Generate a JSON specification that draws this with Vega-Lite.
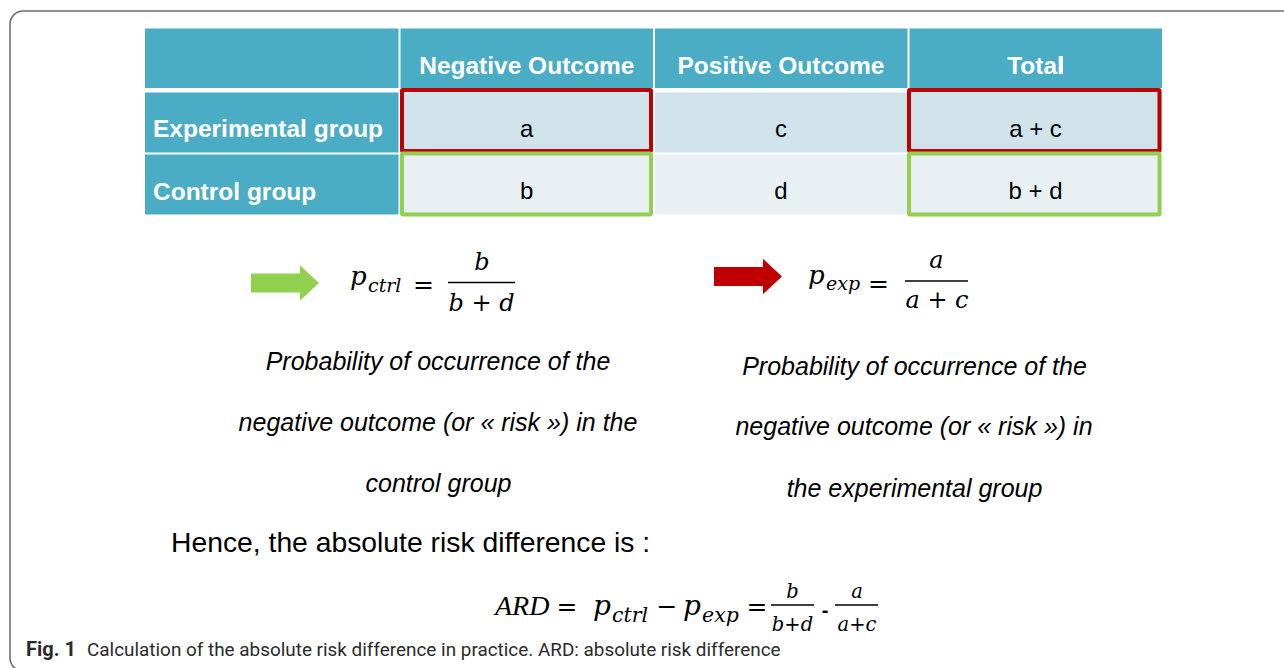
{
  "$schema": "https://vega.github.io/schema/vega-lite/v6.json",
  "width": 1284,
  "height": 668,
  "padding": 0,
  "autosize": {"type": "none"},
  "background": "white",
  "config": {"view": {"stroke": null}},
  "datasets": {
    "frame": [{"x": 10, "x2": 1330, "y": 11, "y2": 671}],
    "cells": [
      {"x": 145, "x2": 398.5, "y": 28.5, "y2": 88, "role": "header"},
      {"x": 400.5, "x2": 653, "y": 28.5, "y2": 88, "role": "header"},
      {"x": 655, "x2": 907.5, "y": 28.5, "y2": 88, "role": "header"},
      {"x": 909.5, "x2": 1162, "y": 28.5, "y2": 88, "role": "header"},
      {"x": 145, "x2": 398.5, "y": 92.5, "y2": 152.5, "role": "header"},
      {"x": 145, "x2": 398.5, "y": 154.5, "y2": 214.5, "role": "header"},
      {"x": 400.5, "x2": 653, "y": 92.5, "y2": 152.5, "role": "row1"},
      {"x": 655, "x2": 907.5, "y": 92.5, "y2": 152.5, "role": "row1"},
      {"x": 909.5, "x2": 1162, "y": 92.5, "y2": 152.5, "role": "row1"},
      {"x": 400.5, "x2": 653, "y": 154.5, "y2": 214.5, "role": "row2"},
      {"x": 655, "x2": 907.5, "y": 154.5, "y2": 214.5, "role": "row2"},
      {"x": 909.5, "x2": 1162, "y": 154.5, "y2": 214.5, "role": "row2"}
    ],
    "outlines": [
      {"x": 402, "x2": 651, "y": 90, "y2": 151, "group": "exp"},
      {"x": 909, "x2": 1159.5, "y": 90, "y2": 151, "group": "exp"},
      {"x": 402, "x2": 651, "y": 153.5, "y2": 214.5, "group": "ctrl"},
      {"x": 909, "x2": 1159.5, "y": 153.5, "y2": 214.5, "group": "ctrl"}
    ],
    "cursor": [{"x": 1061.5, "y": 56, "y2": 74}],
    "arrows": [
      {"x": 285, "y": 283, "group": "ctrl"},
      {"x": 748, "y": 276.5, "group": "exp"}
    ],
    "fracLines": [
      {"x": 448, "x2": 515, "y": 282.5},
      {"x": 905, "x2": 968, "y": 281},
      {"x": 771, "x2": 814, "y": 605},
      {"x": 835, "x2": 878, "y": 605}
    ],
    "headerText": [
      {"x": 526.75, "y": 74, "label": "Negative Outcome"},
      {"x": 781, "y": 74, "label": "Positive Outcome"},
      {"x": 1035.5, "y": 74, "label": "Total"}
    ],
    "labelText": [
      {"x": 153, "y": 137, "label": "Experimental group"},
      {"x": 153, "y": 199.5, "label": "Control group"}
    ],
    "cellText": [
      {"x": 526.75, "y": 137, "label": "a"},
      {"x": 781, "y": 137, "label": "c"},
      {"x": 1035.5, "y": 137, "label": "a + c"},
      {"x": 526.75, "y": 198.5, "label": "b"},
      {"x": 781, "y": 198.5, "label": "d"},
      {"x": 1035.5, "y": 198.5, "label": "b + d"}
    ],
    "mathP": [
      {"x": 350, "y": 285, "label": "p"},
      {"x": 808, "y": 284, "label": "p"}
    ],
    "mathSub": [
      {"x": 368, "y": 292, "label": "ctrl"},
      {"x": 826, "y": 290, "label": "exp"}
    ],
    "ardP": [
      {"x": 593, "y": 615, "label": "p"},
      {"x": 683, "y": 615, "label": "p"}
    ],
    "ardSub": [
      {"x": 612, "y": 622, "label": "ctrl"},
      {"x": 702, "y": 622, "label": "exp"}
    ],
    "mathFrac": [
      {"x": 482, "y": 270, "label": "b"},
      {"x": 481.5, "y": 311, "label": "b + d"},
      {"x": 936.5, "y": 268, "label": "a"},
      {"x": 937, "y": 308, "label": "a + c"}
    ],
    "mathFracSmall": [
      {"x": 792.5, "y": 598, "label": "b"},
      {"x": 792.5, "y": 631, "label": "b+d"},
      {"x": 857, "y": 598, "label": "a"},
      {"x": 857, "y": 631, "label": "a+c"}
    ],
    "mathOps": [
      {"x": 423.5, "y": 284.5, "label": "="},
      {"x": 878.5, "y": 284, "label": "="},
      {"x": 567, "y": 607, "label": "="},
      {"x": 667, "y": 607, "label": "−"},
      {"x": 757, "y": 607, "label": "="}
    ],
    "mathArd": [{"x": 495, "y": 615, "label": "ARD"}],
    "hyphen": [{"x": 825, "y": 611, "label": "-"}],
    "bodyText": [
      {"x": 438, "y": 370, "label": "Probability of occurrence of the"},
      {"x": 438, "y": 431, "label": "negative outcome (or « risk ») in the"},
      {"x": 438.5, "y": 492, "label": "control group"},
      {"x": 914.5, "y": 375, "label": "Probability of occurrence of the"},
      {"x": 914, "y": 435, "label": "negative outcome (or « risk ») in"},
      {"x": 914.5, "y": 497, "label": "the experimental group"}
    ],
    "hence": [{"x": 171, "y": 551.5, "label": "Hence, the absolute risk difference is :"}],
    "figLabel": [{"x": 26, "y": 656, "label": "Fig. 1"}],
    "caption": [{"x": 87, "y": 656, "label": "Calculation of the absolute risk difference in practice. ARD: absolute risk difference"}]
  },
  "encoding": {
    "x": {"field": "x", "type": "quantitative", "scale": {"domain": [0, 1284], "nice": false, "zero": false}, "axis": null},
    "y": {"field": "y", "type": "quantitative", "scale": {"domain": [0, 668], "nice": false, "zero": false, "reverse": true}, "axis": null}
  },
  "layer": [
    {
      "data": {"name": "frame"},
      "mark": {"type": "rect", "filled": false, "stroke": "#6e6e6e", "strokeWidth": 1.6, "cornerRadius": 13},
      "encoding": {"x2": {"field": "x2"}, "y2": {"field": "y2"}}
    },
    {
      "data": {"name": "cells"},
      "mark": {"type": "rect"},
      "encoding": {
        "x2": {"field": "x2"}, "y2": {"field": "y2"},
        "color": {"field": "role", "type": "nominal", "scale": {"domain": ["header", "row1", "row2"], "range": ["#4BACC6", "#D0E3EA", "#E9F0F4"]}, "legend": null}
      }
    },
    {
      "data": {"name": "outlines"},
      "mark": {"type": "rect", "filled": false, "strokeWidth": 4, "cornerRadius": 1},
      "encoding": {
        "x2": {"field": "x2"}, "y2": {"field": "y2"},
        "stroke": {"field": "group", "type": "nominal", "scale": {"domain": ["exp", "ctrl"], "range": ["#C00000", "#92D050"]}, "legend": null}
      }
    },
    {
      "data": {"name": "cursor"},
      "mark": {"type": "rule", "color": "white", "strokeWidth": 3},
      "encoding": {"y2": {"field": "y2"}}
    },
    {
      "data": {"name": "arrows"},
      "mark": {"type": "point", "shape": "M-1,-0.28L0.44,-0.28L0.44,-0.52L1,0L0.44,0.52L0.44,0.28L-1,0.28Z", "size": 4624, "filled": true, "opacity": 1, "strokeWidth": 0},
      "encoding": {
        "fill": {"field": "group", "type": "nominal", "scale": {"domain": ["exp", "ctrl"], "range": ["#C00000", "#92D050"]}, "legend": null}
      }
    },
    {
      "data": {"name": "fracLines"},
      "mark": {"type": "rule", "color": "black", "strokeWidth": 1.4},
      "encoding": {"x2": {"field": "x2"}}
    },
    {
      "data": {"name": "headerText"},
      "mark": {"type": "text", "font": "Liberation Sans", "fontWeight": "bold", "fontSize": 24.5, "color": "white", "align": "center", "baseline": "alphabetic"},
      "encoding": {"text": {"field": "label"}}
    },
    {
      "data": {"name": "labelText"},
      "mark": {"type": "text", "font": "Liberation Sans", "fontWeight": "bold", "fontSize": 24.5, "color": "white", "align": "left", "baseline": "alphabetic"},
      "encoding": {"text": {"field": "label"}}
    },
    {
      "data": {"name": "cellText"},
      "mark": {"type": "text", "font": "Liberation Sans", "fontSize": 24, "color": "black", "align": "center", "baseline": "alphabetic"},
      "encoding": {"text": {"field": "label"}}
    },
    {
      "data": {"name": "mathP"},
      "mark": {"type": "text", "font": "DejaVu Serif", "fontStyle": "italic", "fontSize": 26, "color": "black", "align": "left", "baseline": "alphabetic"},
      "encoding": {"text": {"field": "label"}}
    },
    {
      "data": {"name": "mathSub"},
      "mark": {"type": "text", "font": "DejaVu Serif", "fontStyle": "italic", "fontSize": 19, "color": "black", "align": "left", "baseline": "alphabetic"},
      "encoding": {"text": {"field": "label"}}
    },
    {
      "data": {"name": "ardP"},
      "mark": {"type": "text", "font": "DejaVu Serif", "fontStyle": "italic", "fontSize": 28, "color": "black", "align": "left", "baseline": "alphabetic"},
      "encoding": {"text": {"field": "label"}}
    },
    {
      "data": {"name": "ardSub"},
      "mark": {"type": "text", "font": "DejaVu Serif", "fontStyle": "italic", "fontSize": 20.5, "color": "black", "align": "left", "baseline": "alphabetic"},
      "encoding": {"text": {"field": "label"}}
    },
    {
      "data": {"name": "mathFrac"},
      "mark": {"type": "text", "font": "DejaVu Serif", "fontStyle": "italic", "fontSize": 24, "color": "black", "align": "center", "baseline": "alphabetic"},
      "encoding": {"text": {"field": "label"}}
    },
    {
      "data": {"name": "mathFracSmall"},
      "mark": {"type": "text", "font": "DejaVu Serif", "fontStyle": "italic", "fontSize": 19.5, "color": "black", "align": "center", "baseline": "alphabetic"},
      "encoding": {"text": {"field": "label"}}
    },
    {
      "data": {"name": "mathOps"},
      "mark": {"type": "text", "font": "DejaVu Serif", "fontSize": 25, "color": "black", "align": "center", "baseline": "middle"},
      "encoding": {"text": {"field": "label"}}
    },
    {
      "data": {"name": "mathArd"},
      "mark": {"type": "text", "font": "Liberation Serif", "fontStyle": "italic", "fontSize": 28, "color": "black", "align": "left", "baseline": "alphabetic"},
      "encoding": {"text": {"field": "label"}}
    },
    {
      "data": {"name": "hyphen"},
      "mark": {"type": "text", "font": "Liberation Sans", "fontWeight": "bold", "fontSize": 20, "color": "black", "align": "center", "baseline": "middle"},
      "encoding": {"text": {"field": "label"}}
    },
    {
      "data": {"name": "bodyText"},
      "mark": {"type": "text", "font": "Liberation Sans", "fontStyle": "italic", "fontSize": 25, "color": "black", "align": "center", "baseline": "alphabetic"},
      "encoding": {"text": {"field": "label"}}
    },
    {
      "data": {"name": "hence"},
      "mark": {"type": "text", "font": "Liberation Sans", "fontSize": 28.3, "color": "black", "align": "left", "baseline": "alphabetic"},
      "encoding": {"text": {"field": "label"}}
    },
    {
      "data": {"name": "figLabel"},
      "mark": {"type": "text", "font": "Roboto", "fontWeight": "bold", "fontSize": 20, "color": "#2b2b2b", "align": "left", "baseline": "alphabetic"},
      "encoding": {"text": {"field": "label"}}
    },
    {
      "data": {"name": "caption"},
      "mark": {"type": "text", "font": "Roboto", "fontSize": 18.9, "color": "#2b2b2b", "align": "left", "baseline": "alphabetic"},
      "encoding": {"text": {"field": "label"}}
    }
  ]
}
